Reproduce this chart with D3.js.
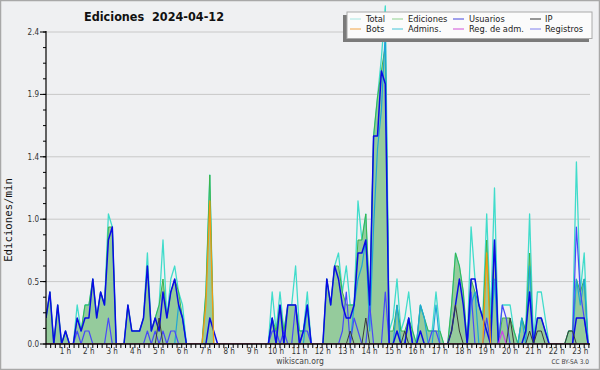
<!DOCTYPE html>
<html><head><meta charset="utf-8">
<script src="https://cdnjs.cloudflare.com/ajax/libs/d3/7.8.5/d3.min.js"></script>
<style>
html,body{margin:0;padding:0;background:#fff;}
svg{display:block;}
</style></head><body>
<svg id="c" width="600" height="370"></svg>
<script>
// 10-minute bins, minutes after 00:00 (00:00 .. 23:10)
const slots = d3.range(0, 1400, 10);
const hourLabels = ["1 h","2 h","3 h","4 h","5 h","6 h","7 h","8 h","9 h","10 h","11 h","12 h","13 h","14 h","15 h","16 h","17 h","18 h","19 h","20 h","21 h","22 h","23 h"];
const yTicks = [0, 0.48, 0.96, 1.44, 1.92, 2.4];

const total = [
 .2,.4,0,.3,0,.1,0,0,.3,.1,
 .3,.3,.5,.2,.4,.3,1.0,.9,0,0,
 0,.3,.1,.1,.1,.2,.7,.1,.2,.3,
 .8,.2,.5,.6,.4,.3,0,0,0,0,
 0,.4,1.3,0,0,0,0,0,0,0,
 0,0,0,0,0,0,0,0,.4,.1,
 .4,.1,.3,.3,.6,.1,.1,.4,0,0,
 0,0,.5,.3,.6,.7,.4,.6,.3,.3,
 1.1,.8,1.0,.3,1.6,1.9,2.2,2.6,.1,.2,
 .5,.1,.2,.4,.1,0,.3,.2,.1,.1,
 .4,.1,0,0,.3,.7,.6,.4,0,.9,
 .5,.3,.2,1.0,.2,1.2,0,.3,.3,.3,
 .1,0,.2,.1,1.0,0,.4,.4,.2,0,
 0,0,0,0,.1,.1,1.4,.4,.7,0];
const ediciones = [
 .2,.4,0,.3,0,.1,0,0,.2,.1,
 .3,.3,.5,.2,.4,.3,.9,.9,0,0,
 0,.3,.1,.1,.1,.2,.6,.1,.2,.3,
 .5,.2,.4,.5,.4,.2,0,0,0,0,
 0,.4,1.3,0,0,0,0,0,0,0,
 0,0,0,0,0,0,0,0,.2,.1,
 .3,.1,.3,.3,.3,.1,.1,.3,0,0,
 0,0,.5,.3,.6,.6,.4,.3,.3,.3,
 .8,.8,1.0,.3,1.6,1.9,2.1,2.3,.1,.1,
 .3,.1,.1,.2,.1,0,.3,.2,.1,.1,
 .1,.1,0,0,.3,.7,.6,.4,0,.5,
 .4,.3,.2,.8,.1,.8,0,.2,.2,.2,
 .1,0,.2,.1,.7,0,.2,.2,.1,0,
 0,0,0,0,.1,.1,.5,.4,.5,0];
const usuarios = [
 .2,.4,0,.3,0,.1,0,0,.2,.1,
 .2,.2,.5,.2,.4,.3,.8,.9,0,0,
 0,.3,.1,.1,.1,.2,.6,.1,.2,.1,
 .4,.2,.4,.5,.3,.2,0,0,0,0,
 0,0,.2,.1,0,0,0,0,0,0,
 0,0,0,0,0,0,0,0,.2,0,
 .3,0,.3,.3,.3,0,.1,.3,0,0,
 0,0,.5,.3,.6,.5,.3,.2,.2,.3,
 .7,.7,.8,.3,1.6,1.6,2.1,2.0,0,0,
 .1,0,0,.2,0,0,.1,0,0,0,
 0,0,0,0,.1,.3,.5,.3,0,.5,
 .5,.3,.2,.1,0,.8,0,0,0,0,
 0,0,0,.1,.4,0,.2,.2,.1,0,
 0,0,0,0,0,0,.2,.2,.2,0];
const ip = [
 0,0,0,0,0,0,0,0,0,0, 0,0,0,0,0,0,0,0,0,0,
 0,0,0,0,0,0,0,0,0,.2, 0,0,0,0,0,0,0,0,0,0,
 0,0,0,0,0,0,0,0,0,0, 0,0,0,0,0,0,0,0,0,0,
 0,0,0,0,0,0,0,0,0,0, 0,0,0,0,0,0,0,0,.1,0,
 0,0,.2,0,0,0,0,0,0,0, 0,0,.1,0,0,0,0,0,0,0,
 0,0,0,0,.1,.3,.1,0,0,0, 0,0,0,0,0,0,0,0,0,.2,
 0,0,0,0,.1,0,.1,.1,0,0, 0,0,0,0,.1,.1,0,0,0,0];
const bots = [
 0,0,0,0,0,0,0,0,0,0, 0,0,0,0,0,0,0,0,0,0,
 0,0,0,0,0,0,0,0,0,0, 0,0,0,0,0,0,0,0,0,0,
 0,.3,1.1,0,0,0,0,0,0,0, 0,0,0,0,0,0,0,0,0,0,
 0,0,0,0,0,0,0,0,0,0, 0,0,0,0,0,0,0,0,0,0,
 0,0,0,0,0,0,0,0,0,0, 0,0,0,0,0,0,0,0,0,0,
 0,0,0,0,0,0,0,0,0,0, 0,0,0,.7,0,0,0,0,0,0,
 0,0,0,0,0,0,0,0,0,0, 0,0,0,0,0,0,0,0,0,0];
const admins = [
 0,0,0,0,0,0,0,0,0,0, 0,0,0,0,0,0,0,0,0,0,
 0,0,0,0,0,0,0,0,0,0, 0,0,0,0,.3,.2,0,0,0,0,
 0,0,0,0,0,0,0,0,0,0, 0,0,0,0,0,0,0,0,.2,0,
 0,0,0,0,0,0,0,.3,0,0, 0,0,0,0,0,0,0,0,0,.3,
 .5,.6,.8,.1,.9,1.5,1.8,2.4,0,0, .3,0,0,.2,0,0,.3,.2,0,0,
 .3,0,0,0,0,0,0,0,0,.3, .4,0,0,0,0,.5,0,0,0,0,
 0,0,.2,0,.6,0,0,0,0,0, 0,0,0,0,0,0,.5,.3,.5,0];
const regAdm = [
 0,0,0,0,0,0,0,0,0,0, 0,0,0,0,0,0,0,0,0,0,
 0,0,0,0,0,0,0,0,0,0, 0,0,0,0,0,0,0,0,0,0,
 0,0,0,0,0,0,0,0,0,0, 0,0,0,0,0,0,0,0,0,0,
 0,0,0,0,0,0,0,0,0,0, 0,0,0,0,0,0,0,0,0,0,
 0,0,0,0,0,0,0,0,0,0, 0,0,0,0,0,0,0,0,0,0,
 0,0,0,0,0,0,0,0,0,0, 0,0,0,0,0,0,0,.1,0,0,
 0,0,0,0,0,0,0,0,0,0, 0,0,0,0,0,0,0,0,0,0];
const registros = [
 0,0,0,0,0,0,0,0,.1,0, .1,.1,0,0,0,0,.2,0,0,0,
 0,0,0,0,0,0,.1,0,.1,0, .1,0,.1,.1,0,0,0,0,0,0,
 0,0,0,0,0,0,0,0,0,0, 0,0,0,0,0,0,0,0,.1,.1,
 0,.1,0,0,.3,0,.1,.1,0,0, 0,0,0,0,0,0,.1,.4,0,.2,
 .1,0,0,.3,0,0,0,.4,0,0, 0,0,0,.2,0,0,0,0,0,.1,
 .1,0,0,0,0,0,0,0,0,.4, 0,0,0,.2,0,0,0,.3,.2,0,
 0,0,0,0,0,0,0,0,0,0, 0,0,0,0,0,0,.9,.4,.2,0];

const legendNames = ["Total","Ediciones","Usuarios","IP","Bots","Admins.","Reg. de adm.","Registros"];
const legendColors = ["#a6e6e2","#8fd18f","#4444dd","#333333","#f2a444","#44c4d8","#d050d8","#8080ee"];

const svg = d3.select("#c");
const W = 600, H = 370;
const pL = 46, pR = 590, pT = 32, pB = 344;
const x = d3.scaleLinear().domain([0, 1440]).range([pL, pL + 24 * 23.4]);
const y = d3.scaleLinear().domain([0, 2.4]).range([pB, pT]);

const cf = "'DejaVu Sans Condensed','DejaVu Sans',sans-serif";

// background + frame
svg.append("rect").attr("x",0.5).attr("y",0.5).attr("width",W-1).attr("height",H-1)
  .attr("fill","#eff0f2").attr("stroke","#a8a8a8").attr("stroke-width",1.5);

// grid
svg.append("g").selectAll("line").data(yTicks.slice(1)).join("line")
  .attr("x1",pL).attr("x2",pR).attr("y1",d=>y(d)).attr("y2",d=>y(d))
  .attr("stroke","#c8c8c8").attr("stroke-width",1);

svg.append("defs").append("clipPath").attr("id","clip")
  .append("rect").attr("x",pL).attr("y",0).attr("width",pR-pL).attr("height",pB);

const plot = svg.append("g").attr("clip-path","url(#clip)");
const line = vals => d3.line().x((d,i)=>x(slots[i])).y(d=>y(d))(vals);
const area = d3.area().x((d,i)=>x(slots[i])).y0(y(0)).y1(d=>y(d));

plot.append("path").attr("d", area(ediciones)).attr("fill","#95cb9c");
const series = [
  [total,"#40dccb",1.3],
  [ediciones,"#3db34a",1],
  [admins,"#1fa6d6",1.2],
  [registros,"#4848fa",1.2],
  [usuarios,"#0a0ae6",1.5],
  [ip,"#3a3a3a",1],
  [bots,"#f29a12",1.3],
  [regAdm,"#cc44e8",1.2]
];
series.forEach(([vals,col,w]) => {
  plot.append("path").attr("d", line(vals)).attr("fill","none")
    .attr("stroke",col).attr("stroke-width",w).attr("stroke-linejoin","round");
});

// y axis
const ya = svg.append("g");
ya.append("line").attr("x1",pL).attr("x2",pL).attr("y1",pT-1).attr("y2",pB)
  .attr("stroke","#000").attr("stroke-width",1.2);
const minorY = d3.range(0, 2.41, 0.12);
ya.selectAll("line.m").data(minorY).join("line").attr("class","m")
  .attr("x1",pL-3).attr("x2",pL).attr("y1",d=>y(d)).attr("y2",d=>y(d))
  .attr("stroke","#000");
ya.selectAll("line.M").data(yTicks).join("line").attr("class","M")
  .attr("x1",pL-6).attr("x2",pL).attr("y1",d=>y(d)).attr("y2",d=>y(d))
  .attr("stroke","#000");
ya.selectAll("text").data(yTicks).join("text")
  .attr("x",pL-7).attr("y",d=>y(d)+3).attr("text-anchor","end")
  .attr("font-family",cf).attr("font-size",8).attr("fill","#333")
  .text(d=>d.toFixed(1));

// x axis
const xa = svg.append("g");
xa.append("line").attr("x1",pL).attr("x2",pR).attr("y1",pB).attr("y2",pB)
  .attr("stroke","#000").attr("stroke-width",1.5);
const minorX = d3.range(0, 1440, 12).filter(m => x(m) <= pR);
xa.selectAll("line.t").data(minorX).join("line").attr("class","t")
  .attr("x1",d=>x(d)).attr("x2",d=>x(d)).attr("y1",pB).attr("y2",pB+4)
  .attr("stroke","#000");
xa.selectAll("text").data(hourLabels).join("text")
  .attr("x",(d,i)=>x((i+1)*60)-4).attr("y",pB+10).attr("text-anchor","middle")
  .attr("font-family",cf).attr("font-size",8).attr("fill","#333")
  .text(d=>d);

// titles
svg.append("text").attr("x",154).attr("y",21).attr("text-anchor","middle")
  .attr("font-family",cf).attr("font-weight","bold").attr("font-size",12.5).attr("fill","#111")
  .text("Ediciones\u00a0\u00a02024-04-12");
svg.append("text").attr("transform","translate(12,220) rotate(-90)").attr("text-anchor","middle")
  .attr("font-family","'DejaVu Sans Mono',monospace").attr("font-size",10.7).attr("fill","#111")
  .text("Ediciones/min");
svg.append("text").attr("x",300).attr("y",364).attr("text-anchor","middle")
  .attr("font-family",cf).attr("font-size",8.5).attr("fill","#444").text("wikiscan.org");
svg.append("text").attr("x",589).attr("y",364).attr("text-anchor","end")
  .attr("font-family",cf).attr("font-size",6.5).attr("fill","#444").text("CC BY-SA 3.0");

// legend
const lg = svg.append("g");
lg.append("rect").attr("x",343).attr("y",15).attr("width",246).attr("height",27).attr("fill","#7a7a7a");
lg.append("rect").attr("x",347).attr("y",12).attr("width",245).attr("height",26.5)
  .attr("fill","#fbfbfb").attr("stroke","#aaa").attr("stroke-width",1);
const colX = [350, 392, 453, 530];
const txtX = [366, 408, 469, 545];
legendNames.forEach((n,i) => {
  const c = i % 4, r = Math.floor(i / 4);
  const yy = 19 + r * 10;
  lg.append("line").attr("x1",colX[c]).attr("x2",colX[c]+11).attr("y1",yy).attr("y2",yy)
    .attr("stroke",legendColors[i]).attr("stroke-width",1);
  lg.append("text").attr("x",txtX[c]).attr("y",yy+3.4).attr("font-family",cf)
    .attr("font-size",9.2).attr("fill","#222").text(n);
});
</script>
</body></html>
